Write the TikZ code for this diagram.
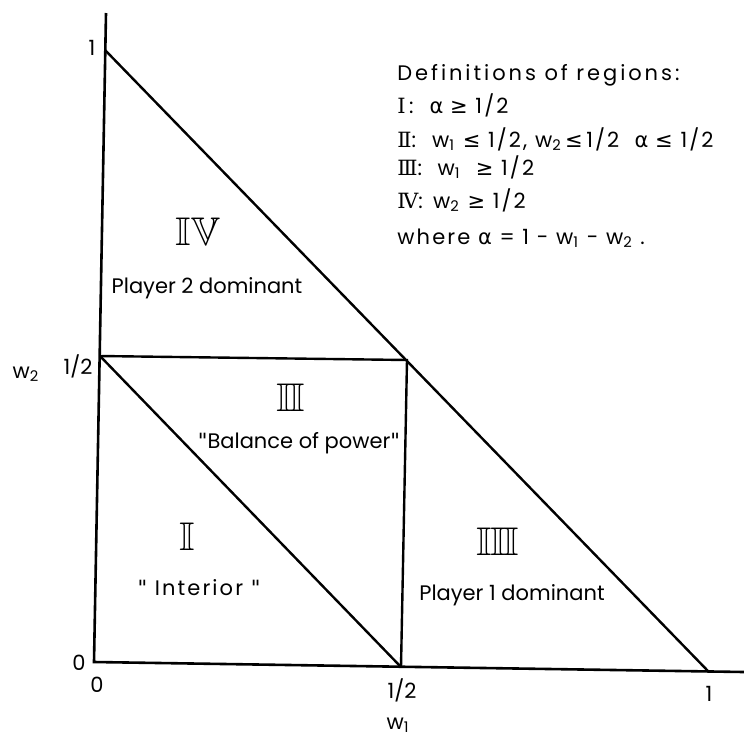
\documentclass[tikz,border=0pt]{standalone}
\usepackage{fontspec}
\usepackage{amssymb}
\setmainfont{Poppins}
\newfontfamily\symfont{DejaVu Sans}
\newfontfamily\romfont{DejaVu Serif}
\newcommand{\sym}[1]{{\symfont #1}}
\newcommand{\rom}[1]{{\romfont #1}}

\begin{document}
\begin{tikzpicture}[x=0.5pt, y=-0.5pt,
    axis/.style={line width=1.3pt},
    edge/.style={line width=1.2pt},
    lbl/.style={font=\fontsize{10.5}{12}\selectfont, inner sep=0pt},
    deftext/.style={inner sep=0pt, anchor=base west,
        font=\fontsize{10.5}{12}\selectfont\addfontfeature{LetterSpace=10}},
    numeral/.style={font=\fontsize{20}{20}\selectfont, inner sep=0pt}]
    \useasboundingbox (0,0) rectangle (744,735);

    % Corner points of the simplex
    \coordinate (O) at (94,662);
    \coordinate (Ytop) at (106,13);
    \coordinate (Xend) at (744,672);
    \coordinate (W2one) at (105,50);
    \coordinate (W1one) at (708,671);
    \coordinate (W2half) at (100,356);
    \coordinate (W1half) at (401,667);
    \coordinate (M) at (407,360);

    % Axes
    \draw[axis] (Ytop) -- (O) -- (Xend);

    % Outer boundary w1 + w2 = 1
    \draw[edge] (W2one) -- (W1one);

    % Borders of the regions
    \draw[edge] (W2half) -- (M) -- (W1half);
    \draw[edge] (W2half) -- (W1half);

    % Tick labels
    \node[lbl] (tickOy) at (79,663) {0};
    \node[lbl] (tickOx) at (97,685) {0};
    \node[lbl] (tickHx) at (402,690) {1/2};
    \node[lbl] (tickIx) at (709,694) {1};
    \node[lbl] (tickIy) at (92,48) {1};
    \node[lbl] (tickHy) at (78,366) {1/2};

    % Axis labels
    \node[lbl] (labw1) at (398,725) {w\textsubscript{1}};
    \node[lbl] (labw2) at (26,374) {w\textsubscript{2}};

    % Region labels
    \node[numeral] (numIV) at (198,232) {$\mathbb{IV}$};
    \node[lbl] (txtIV) at (207,288) {Player 2 dominant};
    \node[numeral] (numII) at (291,398) {$\mathbb{I}\mkern-1mu\mathbb{I}$};
    \node[lbl] (txtII) at (299,443) {\sym{"}Balance of power\sym{"}};
    \node[numeral] (numI) at (187,537) {$\mathbb{I}$};
    \node[lbl, font=\fontsize{10.5}{12}\selectfont\addfontfeature{LetterSpace=10}] (txtI) at (199,588) {\sym{"} Interior \sym{"}};
    \node[numeral] (numIII) at (498,542) {$\mathbb{I}\mkern-1mu\mathbb{I}\mkern-1mu\mathbb{I}$};
    \node[lbl] (txtIII) at (512,595) {Player 1 dominant};

    % Definitions of the regions
    \node[deftext, font=\fontsize{10.5}{12}\selectfont\addfontfeature{LetterSpace=14}] (defhead) at (397,80) {Definitions of regions:};
    \node[deftext] (defI) at (397,113) {\rom{Ⅰ}\,:\hspace{8pt}\sym{α ≥} 1/2};
    \node[deftext] (defII) at (397,147) {\rom{Ⅱ}:\hspace{8pt}w\textsubscript{1} \sym{≤} 1/2, w\textsubscript{2}\,\sym{≤}\,1/2 \ \sym{α ≤} 1/2};
    \node[deftext] (defIII) at (397,175) {\rom{Ⅲ}:\ \ w\textsubscript{1} \ \sym{≥} 1/2};
    \node[deftext] (defIV) at (397,208) {\rom{Ⅳ}: w\textsubscript{2} \sym{≥} 1/2};
    \node[deftext] (defalpha) at (397,244) {where \sym{α} = 1 - w\textsubscript{1} - w\textsubscript{2} .};
\end{tikzpicture}
\end{document}
